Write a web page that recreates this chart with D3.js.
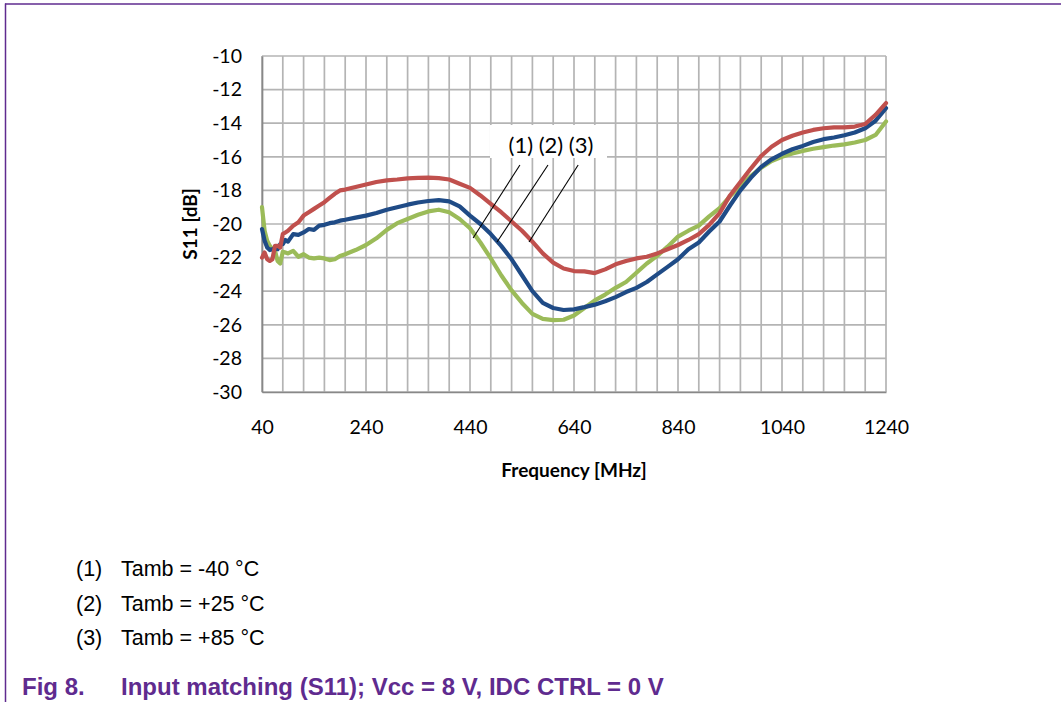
<!DOCTYPE html>
<html><head><meta charset="utf-8">
<script src="https://cdn.jsdelivr.net/npm/d3@7"></script>
<style>
html,body{margin:0;padding:0;background:#fff;}
svg{display:block;}
</style></head>
<body>
<svg id="chart" width="1061" height="702"></svg>
<script>
// ---------- data ----------
const freq = [40,45,50,55,60,65,70,75,80,85,90,100,110,120,130,140,150,160,170,180,190,200,
  220,240,260,280,300,320,340,360,380,400,420,440,460,480,500,520,540,560,580,600,620,640,660,680,700,
  720,740,760,780,800,820,840,860,880,900,920,940,960,980,1000,1020,1040,1060,1080,1100,1120,1140,1160,1180,1200,1220,1240];

// (1) Tamb = -40 °C (green)
const s11_m40 = [-19.0,-20.4,-21.0,-21.3,-21.5,-21.6,-22.2,-22.35,-21.65,-21.7,-21.75,-21.6,-21.95,-21.8,-22.0,-22.05,-22.0,-22.05,-22.15,-22.1,-21.9,-21.8,
  -21.55,-21.25,-20.85,-20.35,-19.95,-19.7,-19.45,-19.25,-19.15,-19.3,-19.7,-20.25,-21.1,-22.05,-23.05,-23.95,-24.7,-25.35,-25.65,-25.72,-25.7,-25.45,-25.0,-24.55,-24.2,
  -23.8,-23.45,-22.9,-22.35,-21.9,-21.35,-20.75,-20.4,-20.1,-19.55,-19.05,-18.35,-17.75,-17.15,-16.65,-16.25,-16.0,-15.8,-15.65,-15.52,-15.42,-15.33,-15.26,-15.15,-15.0,-14.7,-13.9];

// (2) Tamb = +25 °C (blue)
const s11_p25 = [-20.3,-21.0,-21.4,-21.55,-21.5,-21.45,-21.5,-21.2,-21.2,-20.95,-21.05,-20.6,-20.65,-20.5,-20.3,-20.35,-20.1,-20.05,-19.95,-19.9,-19.8,-19.75,
  -19.62,-19.5,-19.35,-19.15,-19.0,-18.85,-18.72,-18.63,-18.58,-18.65,-18.95,-19.5,-20.0,-20.6,-21.3,-22.1,-23.05,-24.0,-24.7,-25.0,-25.12,-25.08,-24.95,-24.8,-24.6,
  -24.35,-24.05,-23.8,-23.45,-23.0,-22.55,-22.1,-21.5,-21.1,-20.45,-19.85,-18.9,-18.0,-17.25,-16.6,-16.15,-15.82,-15.55,-15.35,-15.12,-14.95,-14.85,-14.72,-14.55,-14.3,-13.85,-13.1];

// (3) Tamb = +85 °C (red)
const s11_p85 = [-22.0,-21.7,-22.1,-22.2,-22.1,-21.3,-21.3,-21.4,-20.6,-20.5,-20.4,-20.1,-19.9,-19.5,-19.3,-19.1,-18.9,-18.7,-18.45,-18.2,-18.0,-17.95,
  -17.8,-17.65,-17.5,-17.4,-17.35,-17.28,-17.25,-17.24,-17.27,-17.35,-17.6,-17.85,-18.3,-18.8,-19.3,-19.85,-20.4,-21.05,-21.75,-22.3,-22.65,-22.8,-22.82,-22.92,-22.7,
  -22.4,-22.2,-22.05,-21.95,-21.75,-21.5,-21.25,-20.95,-20.6,-20.05,-19.35,-18.3,-17.5,-16.7,-15.95,-15.4,-15.0,-14.75,-14.55,-14.4,-14.3,-14.25,-14.25,-14.2,-14.05,-13.5,-12.8];

const seriesNames = ["(1)", "(2)", "(3)"];
const xTicks = [40, 240, 440, 640, 840, 1040, 1240];
const yTicks = [-10,-12,-14,-16,-18,-20,-22,-24,-26,-28,-30];
const legendLabels = ["Tamb = -40 °C", "Tamb = +25 °C", "Tamb = +85 °C"];
const captionNum = "Fig 8.";
const captionText = "Input matching (S11); Vcc = 8 V, IDC CTRL = 0 V";
const xTitle = "Frequency [MHz]";
const yTitle = "S11 [dB]";
// leader lines of the "(1) (2) (3)" callout, in data units
const leaderF0 = [536, 590, 648];
const leaderF1 = [446, 492, 553.5];
const leaderV0 = -16.49, leaderV1 = [-20.83, -21.07, -21.07];

// ---------- drawing ----------
const svg = d3.select("#chart");
const L = 262, R = 886, T = 56, B = 392;
const x = d3.scaleLinear().domain([40, 1240]).range([L, R]);
const y = d3.scaleLinear().domain([-30, -10]).range([B, T]);
const colors = ["#9bbb59", "#1f4b86", "#c0504d"];
const purple = "#5f2b8f";
const chartFont = "Lato, 'Open Sans', sans-serif";
const docFont = "'Liberation Sans', Arial, sans-serif";

// page frame
svg.append("line").attr("x1", 5).attr("x2", 1061).attr("y1", 4).attr("y2", 4)
  .attr("stroke", purple).attr("stroke-width", 1.5);
svg.append("line").attr("x1", 5.5).attr("x2", 5.5).attr("y1", 3.5).attr("y2", 702)
  .attr("stroke", purple).attr("stroke-width", 1.5);

// grid
const grid = svg.append("g");
grid.selectAll("line.v").data(d3.range(40, 1241, 40)).join("line")
  .attr("x1", d => x(d)).attr("x2", d => x(d)).attr("y1", T).attr("y2", B)
  .attr("stroke", "#b4b4b4").attr("stroke-width", 1.7);
grid.selectAll("line.h").data(yTicks).join("line")
  .attr("x1", L).attr("x2", R).attr("y1", d => y(d)).attr("y2", d => y(d))
  .attr("stroke", "#b4b4b4").attr("stroke-width", 1.7);

// axes
const yAxis = d3.axisLeft(y).tickValues(yTicks).tickSize(0).tickPadding(20).tickFormat(d3.format("d"));
const gy = svg.append("g").attr("transform", `translate(${L},0)`).call(yAxis);
gy.select(".domain").attr("stroke", "#888").attr("stroke-width", 1.7);
gy.selectAll("text").attr("font-family", chartFont).attr("font-size", 19.5).attr("fill", "#000")
  .text(d => d < 0 ? "-" + Math.abs(d) : d);

const xAxis = d3.axisBottom(x).tickValues(xTicks).tickSize(0).tickPadding(28).tickFormat(d3.format("d"));
const gx = svg.append("g").attr("transform", `translate(0,${B})`).call(xAxis);
gx.select(".domain").attr("stroke", "#888").attr("stroke-width", 1.7);
gx.selectAll("text").attr("font-family", chartFont).attr("font-size", 19.5).attr("fill", "#000");

// axis titles
svg.append("text").attr("x", (L + R) / 2).attr("y", 477).attr("text-anchor", "middle")
  .attr("font-family", chartFont).attr("font-weight", "bold").attr("font-size", 19).text(xTitle);
svg.append("text").attr("transform", `translate(197,${(T + B) / 2}) rotate(-90)`).attr("text-anchor", "middle")
  .attr("font-family", chartFont).attr("font-weight", "bold").attr("font-size", 19).text(yTitle);

// series
const line = d3.line().x(d => x(d[0])).y(d => y(d[1]));
[s11_m40, s11_p25, s11_p85].forEach((vals, i) => {
  svg.append("path").datum(freq.map((f, k) => [f, vals[k]]))
    .attr("d", line).attr("fill", "none").attr("stroke", colors[i])
    .attr("stroke-width", 4.2).attr("stroke-linejoin", "round").attr("stroke-linecap", "round");
});

// callout
svg.append("rect").attr("x", 490).attr("y", 125).attr("width", 117).attr("height", 33).attr("fill", "#fff");
svg.append("text").attr("x", 551).attr("y", 153).attr("text-anchor", "middle")
  .attr("font-family", chartFont).attr("font-size", 22).text(seriesNames.join(" "));
seriesNames.forEach((n, i) => {
  svg.append("line").attr("x1", x(leaderF0[i])).attr("y1", y(leaderV0))
    .attr("x2", x(leaderF1[i])).attr("y2", y(leaderV1[i]))
    .attr("stroke", "#000").attr("stroke-width", 1.1);
});

// notes below chart
legendLabels.forEach((t, i) => {
  const yy = 576 + i * 34.5;
  svg.append("text").attr("x", 76).attr("y", yy).attr("font-family", docFont).attr("font-size", 21.5)
    .attr("fill", "#000").text(seriesNames[i]);
  svg.append("text").attr("x", 121).attr("y", yy).attr("font-family", docFont).attr("font-size", 21.5)
    .attr("fill", "#000").text(t);
});
svg.append("text").attr("x", 22).attr("y", 695).attr("font-family", docFont).attr("font-size", 24)
  .attr("font-weight", "bold").attr("fill", purple).text(captionNum);
svg.append("text").attr("x", 121).attr("y", 695).attr("font-family", docFont).attr("font-size", 24)
  .attr("font-weight", "bold").attr("fill", purple).text(captionText);
</script>
</body></html>
